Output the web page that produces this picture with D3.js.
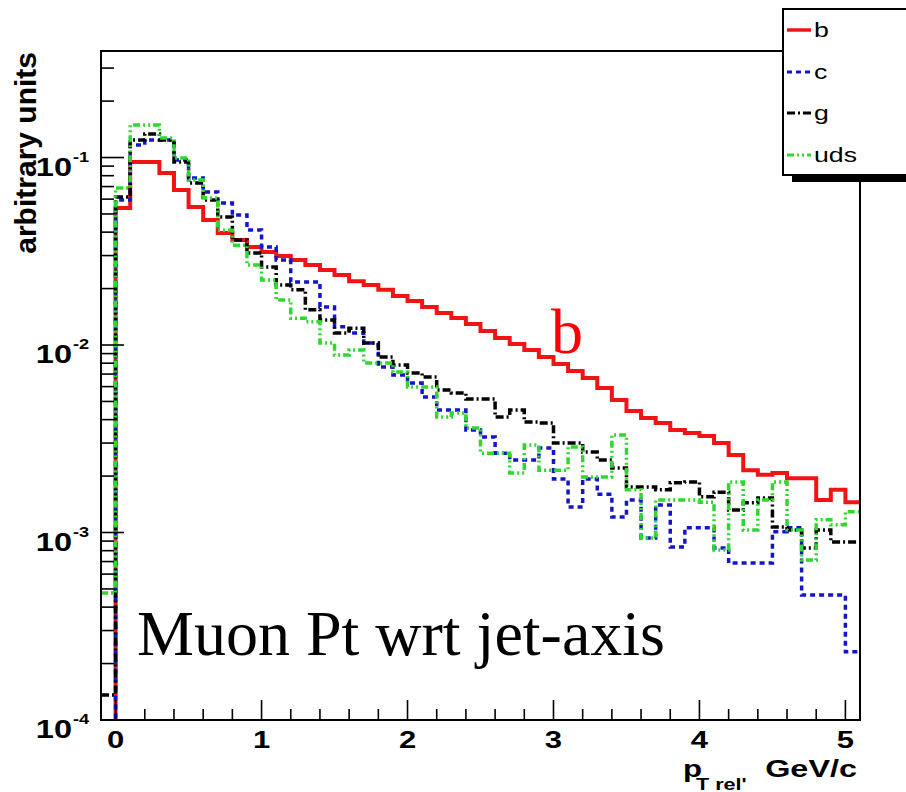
<!DOCTYPE html>
<html>
<head>
<meta charset="utf-8">
<script src="https://cdn.jsdelivr.net/npm/d3@7"></script>
<style>
  body { margin: 0; background: #fff; }
  svg { display: block; }
</style>
</head>
<body>
<div id="chart"></div>
<script>
// Histogram binning: 52 bins of width 0.1 starting at -0.1 GeV/c
const binStart = -0.1;
const binWidth = 0.1;

// Normalised muon p_T,rel distributions per jet flavour (bin contents)
const bValues = [0, 0.0538, 0.0946, 0.0946, 0.0827, 0.0671, 0.0545, 0.0464, 0.0396, 0.0363,
  0.0333, 0.0313, 0.0298, 0.0284, 0.0267, 0.0251, 0.0236, 0.0219, 0.0209, 0.0197,
  0.01825, 0.01717, 0.01595, 0.01482, 0.01393, 0.01294, 0.01188, 0.0109, 0.01012, 0.0094,
  0.00863, 0.00792, 0.00727, 0.00667, 0.0059, 0.00509, 0.00445, 0.00408, 0.00384, 0.00352,
  0.00339, 0.00327, 0.0030, 0.00259, 0.00215, 0.00203, 0.00208, 0.00195, 0.00195, 0.00149,
  0.00169, 0.00145];
const cValues = [0, 0.0593, 0.1166, 0.124, 0.124, 0.097, 0.0778, 0.0655, 0.0572, 0.0494,
  0.0411, 0.0333, 0.0284, 0.0217, 0.0217, 0.01595, 0.0125, 0.0116, 0.01025, 0.00763,
  0.00692, 0.00627, 0.00528, 0.0045, 0.0045, 0.00352, 0.00323, 0.00265, 0.00244, 0.00244,
  0.00282, 0.00193, 0.00137, 0.00193, 0.0016, 0.00121, 0.00149, 0.000935, 0.0014, 0.000837,
  0.00106, 0.00106, 0.000827, 0.000688, 0.000688, 0.000688, 0.00101, 0.00106, 0.000464, 0.000464,
  0.000464, 0.000231];
const gValues = [0.000136, 0.0616, 0.124, 0.1334, 0.124, 0.0946, 0.0731, 0.0593, 0.0482, 0.0363,
  0.031, 0.0261, 0.0209, 0.0197, 0.0154, 0.0136, 0.0116, 0.0123, 0.01025, 0.00863,
  0.00782, 0.00709, 0.00675, 0.00575, 0.00555, 0.00515, 0.00515, 0.00413, 0.0045, 0.00388,
  0.00384, 0.0030, 0.0030, 0.00269, 0.00244, 0.00221, 0.00175, 0.00175, 0.00169, 0.00184,
  0.00186, 0.00155, 0.00164, 0.00132, 0.00144, 0.00153, 0.00107, 0.00103, 0.000827, 0.00103,
  0.00089, 0.00089];
const udsValues = [0.000476, 0.0688, 0.149, 0.149, 0.127, 0.0994, 0.0759, 0.0608, 0.041, 0.0341,
  0.0267, 0.0222, 0.0174, 0.0139, 0.0133, 0.01025, 0.00884, 0.0094, 0.00802, 0.00802,
  0.00718, 0.00597, 0.00597, 0.00413, 0.00434, 0.00361, 0.00265, 0.00265, 0.00208, 0.00293,
  0.00215, 0.00215, 0.00286, 0.00198, 0.00198, 0.00331, 0.00169, 0.000935, 0.00149, 0.00149,
  0.00149, 0.00145, 0.000807, 0.00186, 0.00103, 0.00149, 0.00186, 0.00103, 0.000713, 0.00117,
  0.0011, 0.00129];

const seriesNames = ["b", "c", "g", "uds"];
const seriesColors = ["#f01414", "#1414c8", "#000000", "#2ed82e"];
const seriesDashes = [null, "5,4", "8,3,2,3", "7,3,2,3,2,3"];
const seriesWidths = [4, 3.5, 3.5, 3.5];

const xTickValues = [0, 1, 2, 3, 4, 5];
const yDecades = [1e-4, 1e-3, 1e-2, 1e-1];
const yDecadeExponents = ["-4", "-3", "-2", "-1"];

const W = 906, H = 792;
const frame = { left: 101, right: 860, top: 51, bottom: 720 };
const yMin = 1e-4, yMax = 0.37;

const svg = d3.select("#chart").append("svg")
  .attr("width", W).attr("height", H)
  .attr("font-family", "'Liberation Sans', Arial, Helvetica, sans-serif");

const x = d3.scaleLinear().domain([binStart, binStart + binWidth * bValues.length]).range([frame.left, frame.right]);
const y = d3.scaleLog().domain([yMin, yMax]).range([frame.bottom, frame.top]);

svg.append("defs").append("clipPath").attr("id", "plot-clip")
  .append("rect")
  .attr("x", frame.left).attr("y", frame.top)
  .attr("width", frame.right - frame.left).attr("height", frame.bottom - frame.top);

// Step outline of one histogram; empty bins sit on the lower edge
function stepPoints(values) {
  const pts = values.map((v, i) => [binStart + i * binWidth, v]);
  pts.push([binStart + values.length * binWidth, values[values.length - 1]]);
  return pts;
}
const yPix = v => v > 0 ? y(Math.max(v, yMin * 0.5)) : frame.bottom + 2;
const histLine = d3.line()
  .x(d => x(d[0]))
  .y(d => yPix(d[1]))
  .curve(d3.curveStepAfter);

const allSeries = [bValues, cValues, gValues, udsValues];
const plot = svg.append("g").attr("clip-path", "url(#plot-clip)");
allSeries.forEach((vals, k) => {
  plot.append("path")
    .attr("d", histLine(stepPoints(vals)))
    .attr("fill", "none")
    .attr("stroke", seriesColors[k])
    .attr("stroke-width", seriesWidths[k])
    .attr("stroke-dasharray", seriesDashes[k])
    .attr("stroke-linejoin", "miter");
});

// Frame
svg.append("rect")
  .attr("x", frame.left).attr("y", frame.top)
  .attr("width", frame.right - frame.left).attr("height", frame.bottom - frame.top)
  .attr("fill", "none").attr("stroke", "#000").attr("stroke-width", 2);

// Y axis (log) ticks: long at decades, short at 2..9
const yTickG = svg.append("g").attr("stroke", "#000").attr("stroke-width", 1.6);
const yMinorTicks = [];
yDecades.forEach(d => { for (let m = 2; m <= 9; m++) { if (d * m <= yMax) yMinorTicks.push(d * m); } });
yTickG.selectAll("line.major").data(yDecades).join("line")
  .attr("x1", frame.left).attr("x2", frame.left + 23)
  .attr("y1", d => y(d)).attr("y2", d => y(d));
yTickG.selectAll("line.minor").data(yMinorTicks).join("line")
  .attr("x1", frame.left).attr("x2", frame.left + 13)
  .attr("y1", d => y(d)).attr("y2", d => y(d));

// Y tick labels: 10 with exponent
const stretch = 1.3;
yDecades.forEach((d, i) => {
  const ty = y(d);
  svg.append("text")
    .attr("transform", `translate(72,${ty + 18}) scale(${stretch},1)`)
    .attr("text-anchor", "end").attr("font-weight", "bold").attr("font-size", 25)
    .text("10");
  svg.append("text")
    .attr("transform", `translate(73,${ty + 4}) scale(${stretch},1)`)
    .attr("text-anchor", "start").attr("font-weight", "bold").attr("font-size", 14)
    .text(yDecadeExponents[i]);
});

// X axis ticks
const xMinorTicks = d3.range(1, 26).map(k => k * 0.2).filter(v => Math.abs(v - Math.round(v)) > 1e-6);
const xTickG = svg.append("g").attr("stroke", "#000").attr("stroke-width", 1.6);
xTickG.selectAll("line.major").data(xTickValues).join("line")
  .attr("x1", d => x(d)).attr("x2", d => x(d))
  .attr("y1", frame.bottom).attr("y2", frame.bottom - 20);
xTickG.selectAll("line.minor").data(xMinorTicks).join("line")
  .attr("x1", d => x(d)).attr("x2", d => x(d))
  .attr("y1", frame.bottom).attr("y2", frame.bottom - 11);

xTickValues.forEach(v => {
  svg.append("text")
    .attr("transform", `translate(${x(v)},748) scale(1.35,1)`)
    .attr("text-anchor", "middle").attr("font-weight", "bold").attr("font-size", 23)
    .text(String(v));
});

// X axis title: p_{T rel'} GeV/c
svg.append("text")
  .attr("transform", "translate(683,777) scale(1.3,1)")
  .attr("font-weight", "bold").attr("font-size", 24).text("p");
svg.append("text")
  .attr("transform", "translate(696,790) scale(1.35,1)")
  .attr("font-weight", "bold").attr("font-size", 16).text("T rel'");
svg.append("text")
  .attr("transform", "translate(857,777) scale(1.35,1)")
  .attr("text-anchor", "end").attr("font-weight", "bold").attr("font-size", 24).text("GeV/c");

// Y axis title
svg.append("text")
  .attr("transform", "translate(36,52) rotate(-90)")
  .attr("text-anchor", "end").attr("font-weight", "bold").attr("font-size", 30)
  .text("arbitrary units");

// Legend with drop shadow, running off the right edge
const legend = svg.append("g");
legend.append("rect").attr("x", 792).attr("y", 18).attr("width", 140).attr("height", 164).attr("fill", "#000");
legend.append("rect").attr("x", 783).attr("y", 9).attr("width", 140).attr("height", 166)
  .attr("fill", "#fff").attr("stroke", "#000").attr("stroke-width", 2);
const legendRows = [30, 72, 113, 155];
seriesNames.forEach((name, k) => {
  const ly = legendRows[k];
  legend.append("line")
    .attr("x1", 787).attr("x2", 811).attr("y1", ly).attr("y2", ly)
    .attr("stroke", seriesColors[k]).attr("stroke-width", seriesWidths[k] - 0.5)
    .attr("stroke-dasharray", seriesDashes[k]);
  legend.append("text")
    .attr("transform", `translate(814,${ly + 7}) scale(1.27,1)`)
    .attr("font-size", 21).attr("dominant-baseline", "auto")
    .text(name);
});

// Annotations
svg.append("text")
  .attr("x", 137).attr("y", 655)
  .attr("font-family", "'Liberation Serif', 'Times New Roman', Times, serif")
  .attr("font-size", 64).attr("fill", "#000")
  .text("Muon Pt wrt jet-axis");
svg.append("text")
  .attr("x", 551).attr("y", 353)
  .attr("font-family", "'Liberation Serif', 'Times New Roman', Times, serif")
  .attr("font-size", 64).attr("fill", "#ff0000")
  .text("b");
</script>
</body>
</html>
